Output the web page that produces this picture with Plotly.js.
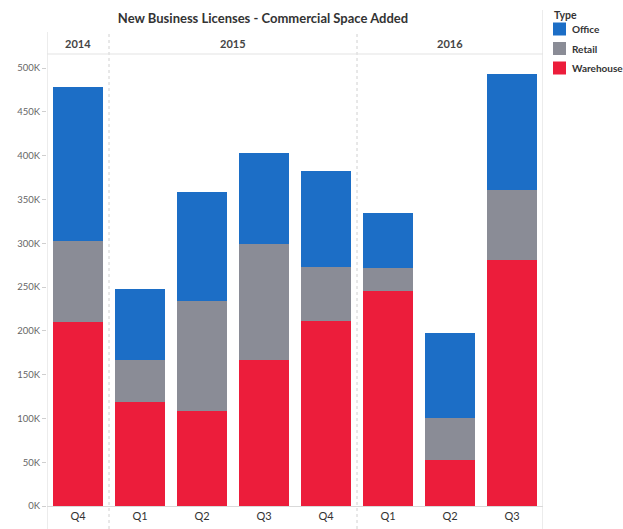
<!DOCTYPE html>
<html>
<head>
<meta charset="utf-8">
<script src="https://cdn.plot.ly/plotly-3.0.1.min.js"></script>
<style>html,body{margin:0;padding:0;background:#fff;}#chart{width:623px;height:529px;}</style>
</head>
<body>
<div id="chart"></div>
<script>
// Data (values in thousands)
var years    = ['2014','2015','2015','2015','2015','2016','2016','2016'];
var quarters = ['Q4','Q1','Q2','Q3','Q4','Q1','Q2','Q3'];
var warehouse = [210, 119, 109, 167, 211, 246, 52, 281];
var retail    = [93,  48,  125, 132, 62,  26,  49, 80];
var office    = [176, 81,  125, 104, 110, 63,  97, 132];
var yTicks = [0,50,100,150,200,250,300,350,400,450,500];
var legendOrder = ['Office','Retail','Warehouse'];
var colors = {Office:'#1c6ec6', Retail:'#8a8c96', Warehouse:'#ec1d3b'};

var keys = years.map(function(y,i){return y+' '+quarters[i];});
var yTickText = yTicks.map(function(v){return v+'K';});

function mk(name, vals){
  return {type:'bar', name:name, x:keys, y:vals,
    marker:{color:colors[name], line:{width:0}},
    hoverinfo:'skip', showlegend:false};
}
var traces = [mk('Warehouse',warehouse), mk('Retail',retail), mk('Office',office)];

var L=47, R=543, T=55, B=506, W=623, H=529;
function py(px){return (B-px)/(B-T);}
function pxX(px){return (px-L)/(R-L);}

var groups=[];
years.forEach(function(y,i){
  var g=groups.length?groups[groups.length-1]:null;
  if(!g||g.year!==y){groups.push({year:y,start:i,end:i});}else{g.end=i;}
});

var shapes=[];
var lineStyle={color:'#d9d9d9',width:1};
shapes.push({type:'line',xref:'x',yref:'paper',x0:-0.5,x1:-0.5,y0:py(529),y1:py(32),line:lineStyle});
shapes.push({type:'line',xref:'x',yref:'paper',x0:keys.length-0.5,x1:keys.length-0.5,y0:py(529),y1:py(10),line:lineStyle});
groups.slice(1).forEach(function(g){
  shapes.push({type:'line',xref:'x',yref:'paper',x0:g.start-0.5,x1:g.start-0.5,y0:py(529),y1:py(32),line:{color:'#d0d0d0',width:1,dash:'dot'}});
});
shapes.push({type:'line',xref:'paper',yref:'paper',x0:0,x1:1,y0:py(54),y1:py(54),line:{color:'#e3e3e3',width:1}});

var annotations = groups.map(function(g){
  return {xref:'x',yref:'paper',x:(g.start+g.end)/2,y:py(43),text:'<b>'+g.year+'</b>',showarrow:false,
    font:{family:'Lato, Open Sans, sans-serif',size:11,color:'#444'},xanchor:'center',yanchor:'middle'};
});

// manual legend (drawn from legendOrder / colors)
annotations.push({xref:'paper',yref:'paper',x:pxX(552),y:py(15),text:'<b>Type</b>',showarrow:false,
  xanchor:'left',yanchor:'middle',font:{family:'Lato, Open Sans, sans-serif',size:10.5,color:'#333'}});
legendOrder.forEach(function(name,i){
  var cy = 29 + i*19.5;
  shapes.push({type:'rect',xref:'paper',yref:'paper',x0:pxX(553),x1:pxX(566),y0:py(cy-6.5),y1:py(cy+6.5),
    fillcolor:colors[name],line:{width:0}});
  annotations.push({xref:'paper',yref:'paper',x:pxX(570),y:py(cy),text:'<b>'+name+'</b>',showarrow:false,
    xanchor:'left',yanchor:'middle',font:{family:'Lato, Open Sans, sans-serif',size:10,color:'#333'}});
});

var layout = {
  width:W, height:H,
  margin:{l:L, r:W-R, t:T, b:H-B, pad:0},
  paper_bgcolor:'#fff', plot_bgcolor:'#fff',
  barmode:'stack', bargap:0.18,
  font:{family:'Lato, Open Sans, sans-serif', color:'#444'},
  title:{text:'<b>New Business Licenses - Commercial Space Added</b>',
    font:{family:'Lato, Open Sans, sans-serif',size:13,color:'#333'},
    x:263/W, xanchor:'center', y:1-18/H, yanchor:'middle', xref:'container', yref:'container'},
  xaxis:{type:'category', tickvals:keys, ticktext:quarters, showgrid:false, zeroline:false,
    showline:true, linecolor:'#d9d9d9', ticks:'', tickfont:{size:11,color:'#333'}, range:[-0.5,keys.length-0.5], fixedrange:true},
  yaxis:{range:[0,515], tickvals:yTicks, ticktext:yTickText,
    showgrid:false, zeroline:false, showline:false, ticks:'outside', ticklen:4, tickcolor:'#cfcfcf',
    tickfont:{size:9.5,color:'#666'}},
  shapes:shapes,
  annotations:annotations,
  showlegend:false
};

Plotly.newPlot('chart', traces, layout, {displayModeBar:false, staticPlot:true});
</script>
</body>
</html>
